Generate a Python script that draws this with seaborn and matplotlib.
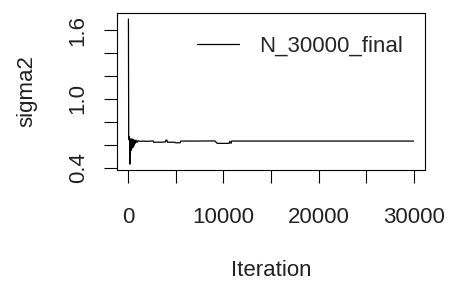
import seaborn as sns
import matplotlib.pyplot as plt

# trace of sigma2
iteration = [1, 30, 60, 90, 120, 150, 170, 190, 210, 230, 250, 270, 290, 310, 330, 350,
             370, 390, 410, 430, 450, 480, 510, 540, 570, 600, 650, 700, 800, 900, 1000,
             1200, 1500, 2000, 2600, 2650, 3500, 3900, 3950, 4050, 4100, 4900, 4950,
             5450, 5500, 7000, 9000, 9100, 9300, 9350, 10600, 10650, 10800, 10850, 15000,
             20000, 25000, 30000]
sigma2 = [1.70, 0.66, 0.67, 0.64, 0.66, 0.43, 0.62, 0.52, 0.64, 0.56, 0.65, 0.55, 0.63,
          0.57, 0.65, 0.58, 0.64, 0.57, 0.63, 0.59, 0.65, 0.60, 0.64, 0.58, 0.63, 0.60,
          0.64, 0.61, 0.64, 0.62, 0.635, 0.63, 0.632, 0.63, 0.633, 0.622, 0.622, 0.625,
          0.64, 0.64, 0.622, 0.622, 0.617, 0.617, 0.632, 0.632, 0.633, 0.633, 0.615, 0.612,
          0.612, 0.63, 0.612, 0.632, 0.632, 0.632, 0.632, 0.632]

sns.set_theme(style="white")
plt.rcParams['font.family'] = ['Liberation Sans', 'DejaVu Sans']

fig = plt.figure(figsize=(4.49, 2.85), dpi=100)
ax = fig.add_axes([0.2606, 0.4035, 0.686, 0.5505])

sns.lineplot(x=iteration, y=sigma2, color='black', linewidth=0.9,
             label='N_30000_final', ax=ax)

ax.set_xlim(-1200, 31200)
ax.set_ylim(0.379, 1.751)
ax.set_xticks([0, 5000, 10000, 15000, 20000, 25000, 30000])
ax.set_xticklabels(['0', '', '10000', '', '20000', '', '30000'])
ax.set_yticks([0.4, 0.6, 0.8, 1.0, 1.2, 1.4, 1.6])
ax.set_yticklabels(['0.4', '', '', '1.0', '', '', '1.6'], rotation=90, va='center')

ax.tick_params(axis='both', direction='out', length=9.4, width=0.8, color='black',
               labelsize=16, labelcolor='#222222', left=True, bottom=True)
ax.tick_params(axis='x', pad=17)
ax.tick_params(axis='y', pad=11)
for s in ax.spines.values():
    s.set_color('black')
    s.set_linewidth(0.8)

ax.set_xlabel('Iteration', fontsize=16, color='#222222', labelpad=23)
ax.set_ylabel('sigma2', fontsize=16, color='#222222', labelpad=22)

ax.legend(loc='upper right', frameon=False, fontsize=16, handlelength=1.9,
          handletextpad=0.9, borderaxespad=0.3, bbox_to_anchor=(0.98, 0.955))

fig.savefig('out.png', dpi=100)
